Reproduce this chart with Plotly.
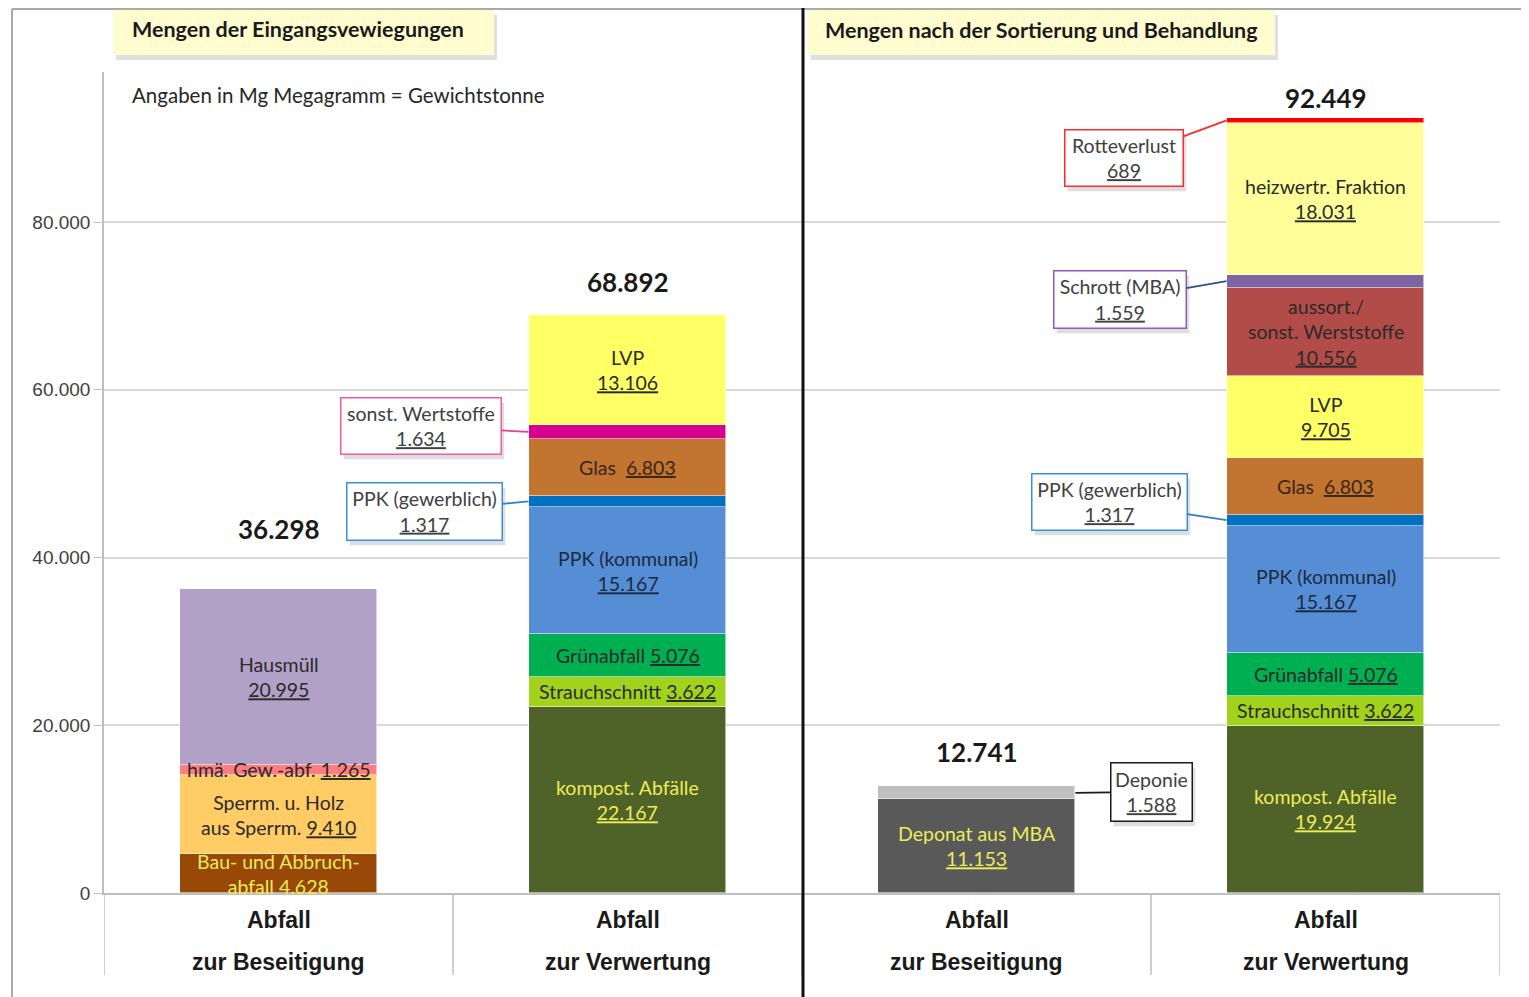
import plotly.graph_objects as go

# ---------------- data ----------------
panel_titles = ["Mengen der Eingangsvewiegungen", "Mengen nach der Sortierung und Behandlung"]
unit_note = "Angaben in Mg Megagramm = Gewichtstonne"
category_line1 = ["Abfall", "Abfall", "Abfall", "Abfall"]
category_line2 = ["zur Beseitigung", "zur Verwertung", "zur Beseitigung", "zur Verwertung"]
y_ticks = [0, 20000, 40000, 60000, 80000]

bes_in_names = ["Bau- und Abbruchabfall", "Sperrm. u. Holz aus Sperrm.", "hmä. Gew.-abf.", "Hausmüll"]
bes_in_values = [4628, 9410, 1265, 20995]

ver_in_names = ["kompost. Abfälle", "Strauchschnitt", "Grünabfall", "PPK (kommunal)",
                "PPK (gewerblich)", "Glas", "sonst. Wertstoffe", "LVP"]
ver_in_values = [22167, 3622, 5076, 15167, 1317, 6803, 1634, 13106]

bes_out_names = ["Deponat aus MBA", "Deponie"]
bes_out_values = [11153, 1588]

ver_out_names = ["kompost. Abfälle", "Strauchschnitt", "Grünabfall", "PPK (kommunal)",
                 "PPK (gewerblich)", "Glas", "LVP", "aussort./sonst. Werststoffe",
                 "Schrott (MBA)", "heizwertr. Fraktion", "Rotteverlust"]
ver_out_values = [19924, 3622, 5076, 15167, 1317, 6803, 9705, 10556, 1559, 18031, 689]

bars = [(bes_in_names, bes_in_values), (ver_in_names, ver_in_values),
        (bes_out_names, bes_out_values), (ver_out_names, ver_out_values)]

# ---------------- styles ----------------
FONT = "Lato"
DARK = "#2a2a2a"
YEL = "#ECEC5A"
SEG_SIZE = 19.5
STYLE = {
    "Bau- und Abbruchabfall": ("#984807", YEL, "Bau- und Abbruch-<br>abfall {v}"),
    "Sperrm. u. Holz aus Sperrm.": ("#FFCC66", DARK, "Sperrm. u. Holz<br>aus Sperrm. {u}"),
    "hmä. Gew.-abf.": ("#FF7C80", DARK, "hmä. Gew.-abf. {u}"),
    "Hausmüll": ("#B2A1C7", DARK, "Hausmüll<br>{u}"),
    "kompost. Abfälle": ("#4F6228", YEL, "kompost. Abfälle<br>{u}"),
    "Strauchschnitt": ("#A2D31C", DARK, "Strauchschnitt {u}"),
    "Grünabfall": ("#00B050", DARK, "Grünabfall {u}"),
    "PPK (kommunal)": ("#558ED5", "#1c2a40", "PPK (kommunal)<br>{u}"),
    "PPK (gewerblich)": ("#0070C0", None, "PPK (gewerblich)<br>{u}"),
    "Glas": ("#C27431", "#3a2510", "Glas\u00a0 {u}"),
    "sonst. Wertstoffe": ("#D6008F", None, "sonst. Wertstoffe<br>{u}"),
    "LVP": ("#FFFF66", DARK, "LVP<br>{u}"),
    "Deponat aus MBA": ("#595959", YEL, "Deponat aus MBA<br>{u}"),
    "Deponie": ("#BFBFBF", None, "Deponie<br>{u}"),
    "aussort./sonst. Werststoffe": ("#B24C48", DARK, "aussort./<br>sonst. Werststoffe<br>{u}"),
    "Schrott (MBA)": ("#7F64A2", None, "Schrott (MBA)<br>{u}"),
    "heizwertr. Fraktion": ("#FFFF99", DARK, "heizwertr. Fraktion<br>{u}"),
    "Rotteverlust": ("#FF0000", None, "Rotteverlust<br>{u}"),
}
# callout boxes: (bar index, name) -> (side, box centre x/y px, box w/h px, border colour, line colour)
CALLOUT = {
    (1, "sonst. Wertstoffe"): ("left", 421, 426, 162, 58, "#F4589F", "#E0409A"),
    (1, "PPK (gewerblich)"): ("left", 424.5, 511.5, 157, 59, "#3A8FD6", "#2E7FC8"),
    (3, "Rotteverlust"): ("left", 1124, 158, 120, 58, "#FF2A2A", "#FF2A2A"),
    (3, "Schrott (MBA)"): ("left", 1120, 299.5, 134, 59, "#8E59C2", "#2F4F8F"),
    (3, "PPK (gewerblich)"): ("left", 1109.5, 502, 157, 58, "#3A8FD6", "#2E7FC8"),
    (2, "Deponie"): ("right", 1151.5, 792, 83, 60, "#1a1a1a", "#1a1a1a"),
}
TOTAL_SHIFT = [60, 33, 34, 20]

W, H = 1529, 997
OFF = 8  # page body margin
L, R, T, B = 104, 1500, 72, 893
BAR_W = 0.567
YMAX = 80000 * (B - T) / (B - 222)


def fmt(v):
    return f"{v:,}".replace(",", ".")


def und(s):
    return f"<span style='text-decoration:underline'>{s}</span>"


def PX(p):
    return (p - L) / (R - L)


def PY(p):
    return (B - p) / (B - T)


def px_x(x):
    return L + (x + 0.5) * (R - L) / 4


def px_y(v):
    return B - v * (B - T) / YMAX


fig = go.Figure()
annotations = []

for i, (names, values) in enumerate(bars):
    base = 0
    for name, val in zip(names, values):
        color, tcol, tpl = STYLE[name]
        fig.add_trace(go.Bar(x=[i], y=[val], width=BAR_W, name=name, showlegend=False,
                             marker=dict(color=color, line=dict(color="rgba(255,255,255,0.55)", width=1)),
                             hovertemplate=f"{name}: {fmt(val)}<extra></extra>"))
        mid = base + val / 2
        text = tpl.format(v=fmt(val), u=und(fmt(val)))
        key = (i, name)
        if key in CALLOUT:
            side, cx, cy, bw, bh, bcol, lcol = CALLOUT[key]
            ex = i - BAR_W / 2 if side == "left" else i + BAR_W / 2
            ax = cx - px_x(ex)
            ay = cy - px_y(mid)
            common = dict(x=ex, y=mid, xref="x", yref="y", showarrow=True, arrowhead=0,
                          ax=ax, ay=ay, axref="pixel", ayref="pixel",
                          width=bw - 5, height=bh - 5, borderpad=1, borderwidth=1.5,
                          align="center", valign="middle")
            annotations.append(dict(common, text="\u00a0", font=dict(family=FONT, size=SEG_SIZE, color="rgba(0,0,0,0)"),
                                    bgcolor="rgba(0,0,0,0.13)", bordercolor="rgba(0,0,0,0)",
                                    arrowcolor="rgba(0,0,0,0)", xshift=3, yshift=-5))
            annotations.append(dict(common, text=text, font=dict(family=FONT, size=SEG_SIZE, color="#404040"),
                                    bgcolor="white", bordercolor=bcol, arrowcolor=lcol, arrowwidth=1.8))
        elif tcol is not None:
            annotations.append(dict(x=i, y=mid, xref="x", yref="y", text=text, showarrow=False,
                                    font=dict(family=FONT, size=SEG_SIZE, color=tcol), align="center"))
        base += val
    annotations.append(dict(x=i, y=base, xref="x", yref="y", text=f"<b>{fmt(base)}</b>", showarrow=False,
                            yanchor="middle", yshift=TOTAL_SHIFT[i],
                            font=dict(family=FONT, size=26, color="#1a1a1a")))
    # category labels
    annotations.append(dict(x=i, y=PY(920), xref="x", yref="paper", text=f"<b>{category_line1[i]}</b>",
                            showarrow=False, yanchor="middle",
                            font=dict(family="Liberation Sans", size=23, color="#1a1a1a")))
    annotations.append(dict(x=i, y=PY(962), xref="x", yref="paper", text=f"<b>{category_line2[i]}</b>",
                            showarrow=False, yanchor="middle",
                            font=dict(family="Liberation Sans", size=23, color="#1a1a1a")))

# panel titles & note
annotations.append(dict(x=PX(130), y=PY(29), xref="paper", yref="paper", text=f"<b>{panel_titles[0]}</b>",
                        showarrow=False, xanchor="left", yanchor="middle",
                        font=dict(family=FONT, size=21.5, color="#1a1a1a")))
annotations.append(dict(x=PX(823), y=PY(30), xref="paper", yref="paper", text=f"<b>{panel_titles[1]}</b>",
                        showarrow=False, xanchor="left", yanchor="middle",
                        font=dict(family=FONT, size=21.5, color="#1a1a1a")))
annotations.append(dict(x=PX(130), y=PY(95), xref="paper", yref="paper", text=unit_note,
                        showarrow=False, xanchor="left", yanchor="middle",
                        font=dict(family=FONT, size=20.5, color="#262626")))

shapes = []
# outer frame
shapes.append(dict(type="line", xref="paper", yref="paper", x0=PX(12), x1=PX(12), y0=PY(9), y1=PY(1000),
                   line=dict(color="#8c8c8c", width=1.5)))
shapes.append(dict(type="line", xref="paper", yref="paper", x0=PX(12), x1=PX(1540), y0=PY(9), y1=PY(9),
                   line=dict(color="#8c8c8c", width=1.5)))
# title boxes with shadows
for (x0, x1) in [(113, 494), (808, 1275)]:
    shapes.append(dict(type="rect", xref="paper", yref="paper", x0=PX(x0 + 3), x1=PX(x1 + 3),
                       y0=PY(10 + 5), y1=PY(55 + 5), fillcolor="rgba(0,0,0,0.12)", line=dict(width=0), layer="above"))
    shapes.append(dict(type="rect", xref="paper", yref="paper", x0=PX(x0), x1=PX(x1),
                       y0=PY(10), y1=PY(55), fillcolor="#FFFDCF", line=dict(width=0), layer="above"))
# category separators below the axis
for xb in [-0.5, 0.5, 1.5, 2.5, 3.5]:
    shapes.append(dict(type="line", xref="x", yref="paper", x0=xb, x1=xb, y0=0, y1=PY(975),
                       line=dict(color="#BFBFBF", width=1.5)))
# panel divider
shapes.append(dict(type="line", xref="paper", yref="paper", x0=PX(803), x1=PX(803), y0=PY(8), y1=PY(1000),
                   line=dict(color="#111111", width=3), layer="above"))

fig.update_layout(
    width=W - OFF, height=H - OFF, autosize=False,
    margin=dict(l=L - OFF, r=W - R, t=T - OFF, b=H - B),
    barmode="stack", bargap=0,
    paper_bgcolor="white", plot_bgcolor="white",
    separators=",.",
    showlegend=False,
    xaxis=dict(range=[-0.5, 3.5], showticklabels=False, showgrid=False, zeroline=False,
               showline=True, linecolor="#BFBFBF", linewidth=1.5, ticks="", fixedrange=True),
    yaxis=dict(range=[0, YMAX], tickvals=y_ticks, tickformat=",d", showgrid=True,
               gridcolor="#D9D9D9", gridwidth=1.5, zeroline=False, showline=True,
               linecolor="#BFBFBF", linewidth=1.5, ticks="outside", ticklen=8, tickcolor="#BFBFBF",
               tickfont=dict(family="Liberation Sans", size=19, color="#404040"), fixedrange=True),
    annotations=annotations,
    shapes=shapes,
)

fig.write_html("out.html")
